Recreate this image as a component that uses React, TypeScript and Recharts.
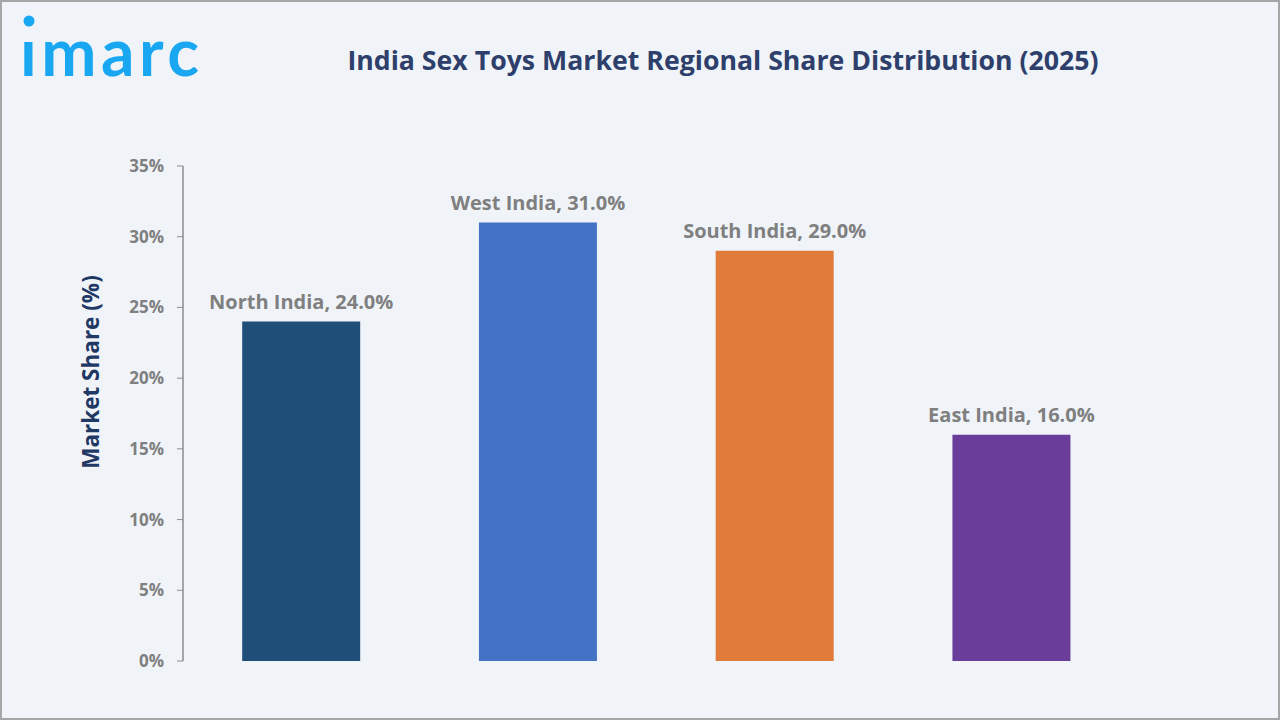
import React from "react"
import { BarChart, Bar, XAxis, YAxis, Cell, LabelList } from "recharts"

const regions = ["North India", "West India", "South India", "East India"]
const shares = [24.0, 31.0, 29.0, 16.0]
const barColors = ["#1F4E79", "#4472C4", "#E07B39", "#6A3D9B"]
const yTicks = [0, 5, 10, 15, 20, 25, 30, 35]

const data = regions.map((region, i) => ({ region, share: shares[i] }))

const FONT = "'Open Sans', 'DejaVu Sans', sans-serif"

function BarLabel(props: any) {
  const { x, y, width, index, value } = props
  return (
    <text
      x={x + width / 2}
      y={y - 13}
      textAnchor="middle"
      fill="#7F7F7F"
      fontFamily={FONT}
      fontWeight={700}
      fontSize={20}
    >
      {`${regions[index]}, ${Number(value).toFixed(1)}%`}
    </text>
  )
}

export default function App() {
  return (
    <div
      style={{
        position: "absolute",
        top: 0,
        left: 0,
        width: 1280,
        height: 720,
        boxSizing: "border-box",
        border: "2px solid #A6A6A6",
        background: "#F0F4F9",
        fontFamily: FONT,
        overflow: "hidden",
      }}
    >
      {/* logo */}
      <svg width={220} height={90} style={{ position: "absolute", left: 0, top: 0 }}>
        <circle cx={27} cy={19} r={5.5} fill="#1AA7F2" />
        <text
          x={18}
          y={74}
          fill="#1AA7F2"
          fontFamily="Lato, 'Noto Sans', sans-serif"
          fontWeight={700}
          fontSize={66}
          letterSpacing={4.5}
        >
          ımarc
        </text>
      </svg>

      <div
        style={{
          position: "absolute",
          top: 39,
          left: 300,
          width: 842,
          textAlign: "center",
          color: "#2E3F6B",
          fontWeight: 700,
          fontSize: 26.7,
          lineHeight: "38px",
        }}
      >
        India Sex Toys Market Regional Share Distribution (2025)
      </div>

      <div
        style={{
          position: "absolute",
          left: 88,
          top: 370,
          transform: "translate(-50%, -50%) rotate(-90deg)",
          whiteSpace: "nowrap",
          color: "#1F3864",
          fontWeight: 700,
          fontSize: 22.5,
        }}
      >
        Market Share (%)
      </div>

      <div style={{ position: "absolute", top: -2, left: -2 }}>
        <BarChart
          width={1280}
          height={720}
          data={data}
          margin={{ top: 166, right: 115, bottom: 59, left: 103 }}
          barCategoryGap="25%"
        >
          <XAxis
            dataKey="region"
            height={0}
            tick={false}
            tickLine={false}
            axisLine={{ stroke: "#8C8C8C", strokeWidth: 1.5 }}
            padding={{ left: 0, right: 35 }}
          />
          <YAxis
            width={80}
            domain={[0, 35]}
            ticks={yTicks}
            interval={0}
            tickFormatter={(v: number) => `${v}%`}
            tickSize={6}
            tickMargin={13}
            axisLine={{ stroke: "#8C8C8C", strokeWidth: 1.5 }}
            tickLine={{ stroke: "#8C8C8C" }}
            tick={{ fill: "#7F7F7F", fontSize: 17, fontWeight: 700, fontFamily: FONT }}
          />
          <Bar dataKey="share" isAnimationActive={false}>
            {data.map((d, i) => (
              <Cell key={d.region} fill={barColors[i]} />
            ))}
            <LabelList dataKey="share" content={<BarLabel />} />
          </Bar>
        </BarChart>
      </div>
    </div>
  )
}
